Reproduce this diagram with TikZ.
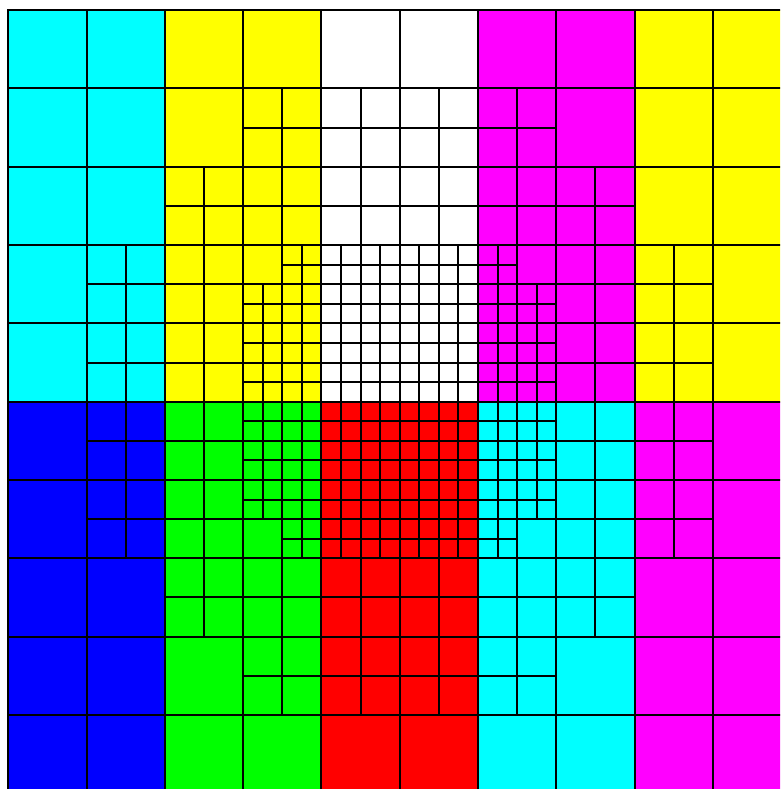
\documentclass[tikz,border=0pt]{standalone}
\usepackage{xcolor}
\definecolor{blockcyan}{HTML}{00FFFF}
\definecolor{blockyellow}{HTML}{FFFF00}
\definecolor{blockwhite}{HTML}{FFFFFF}
\definecolor{blockmagenta}{HTML}{FF00FF}
\definecolor{blockblue}{HTML}{0000FF}
\definecolor{blockgreen}{HTML}{00FF00}
\definecolor{blockred}{HTML}{FF0000}
\tikzset{
  meshline/.style={draw=black,line width=2pt,line cap=rect}
}
% cross through a coarse cell, and through a half cell
\newcommand{\splitcell}[2]{\draw[meshline] (#1+0.5,#2)--(#1+0.5,#2+1) (#1,#2+0.5)--(#1+1,#2+0.5);}
\newcommand{\splitquad}[2]{\draw[meshline] (#1+0.25,#2)--(#1+0.25,#2+0.5) (#1,#2+0.25)--(#1+0.5,#2+0.25);}
\begin{document}
\begin{tikzpicture}
  \useasboundingbox (0,0) rectangle (780pt,-789pt);
  \fill[white] (0,0) rectangle (780pt,-789pt);
  \clip (0,0) rectangle (780pt,-789pt);
  \begin{scope}[shift={(8.2pt,-10.2pt)},x=78.3pt,y=-78.3pt]
    % colour blocks
    \foreach \col [count=\i from 0] in {blockcyan,blockyellow,blockwhite,blockmagenta,blockyellow}
      \fill[\col] (2*\i,0) rectangle ++(2,5);
    \foreach \col [count=\i from 0] in {blockblue,blockgreen,blockred,blockcyan,blockmagenta}
      \fill[\col] (2*\i,5) rectangle ++(2,5);
    % coarse mesh
    \foreach \k in {0,...,10}
      \draw[meshline] (\k,0)--(\k,10) (0,\k)--(10,\k);
    % first refinement
    \foreach \r/\a/\b in {1/3/6,2/2/7,3/1/8,4/1/8,5/1/8,6/1/8,7/2/7,8/3/6}
      \foreach \c in {\a,...,\b}
        \splitcell{\c}{\r};
    % second refinement (half-cell index)
    \foreach \qy/\a/\b in {6/7/12,7/6/13,8/6/13,9/6/13,10/6/13,11/6/13,12/6/13,13/7/12}
      \foreach \qx in {\a,...,\b}
        \splitquad{\qx/2}{\qy/2};
  \end{scope}
\end{tikzpicture}
\end{document}
